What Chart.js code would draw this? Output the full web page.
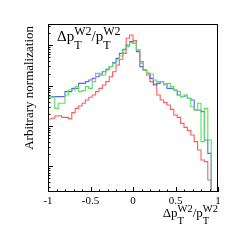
<!DOCTYPE html>
<html>
<head>
<meta charset="utf-8">
<script src="https://cdn.jsdelivr.net/npm/chart.js@4/dist/chart.umd.min.js"></script>
<style>
  html, body { margin: 0; padding: 0; background: #fff; }
  canvas { display: block; }
</style>
</head>
<body>
<canvas id="chart" width="242" height="242"></canvas>
<script>
// 50 bins from -1 to 1
const binEdges = Array.from({ length: 51 }, (_, i) => -1 + 0.04 * i)

const redHist = [14.9, 15.5, 17.7, 18.0, 16.4, 16.4, 15.2, 21.4, 27.4, 31.3,
    36.5, 44.1, 51.4, 58.7, 71.0, 85.9, 104, 126, 167, 222,
    325, 450, 633, 1492, 1804, 1305, 766, 394, 245, 184,
    126, 110, 58.7, 44.1, 37.9, 33.2, 25.9, 18.7, 16.4, 11.6,
    9.27, 7.66, 5.98, 4.09, 2.54, 1.44, 1.31, 0.46, 0, 0]

const blueHist = [53.4, 53.4, 53.4, 53.4, 53.4, 71.0, 71.0, 85.9, 85.9, 114,
    114, 126, 138, 152, 167, 184, 222, 254, 296, 372,
    476, 633, 796, 1019, 1233, 1121, 697, 296, 245, 202,
    152, 104, 114, 126, 110, 85.9, 85.9, 78.1, 58.7, 53.4,
    55.4, 48.5, 44.1, 24.9, 24.9, 22.7, 4.5, 2.1, 0, 0]

const greenHist = [53.4, 52.0, 27.4, 36.5, 36.5, 58.7, 78.1, 78.1, 94.5, 71.0,
    75.2, 94.5, 85.9, 126, 202, 202, 184, 245, 296, 358,
    433, 544, 766, 927, 1164, 1121, 766, 358, 245, 202,
    195, 138, 126, 126, 104, 114, 94.5, 75.2, 71.0, 53.4,
    58.7, 48.5, 30.1, 24.9, 36.5, 4.09, 27.4, 4.5, 0, 0]

const xTicks = [-1, -0.5, 0, 0.5, 1]
const xTickLabels = ['-1', '-0.5', '0', '0.5', '1']

const yMin = 0.231
const yMax = 3380
const floorVal = 0.01 // empty bins drop below the frame

// point at each left edge, plus start/end at the floor so the outline runs down to the axis
const toSteps = (hist) => {
    const pts = [{ x: -1, y: floorVal }]
    hist.forEach((v, i) => pts.push({ x: binEdges[i], y: v > 0 ? v : floorVal }))
    pts.push({ x: 1, y: floorVal })
    return pts
}

const serif = '"Liberation Serif", "DejaVu Serif", serif'

// draws  Δp_T^{W2}/p_T^{W2}  with ROOT-style stacked sub/superscripts
const drawPtRatio = (ctx, x, y, size, small, alignRight) => {
    const parts = [['Δp', 'W2', 'T'], ['/p', 'W2', 'T']]
    const mainFont = size + 'px ' + serif
    const smallFont = small + 'px ' + serif
    let total = 0
    parts.forEach(p => {
        ctx.font = mainFont
        total += ctx.measureText(p[0]).width
        ctx.font = smallFont
        total += Math.max(ctx.measureText(p[1]).width, ctx.measureText(p[2]).width)
    })
    let cx = alignRight ? x - total : x
    ctx.textAlign = 'left'
    ctx.textBaseline = 'alphabetic'
    parts.forEach(p => {
        ctx.font = mainFont
        ctx.fillText(p[0], cx, y)
        cx += ctx.measureText(p[0]).width
        ctx.font = smallFont
        ctx.fillText(p[1], cx, y - size * 0.42)
        ctx.fillText(p[2], cx, y + size * 0.5)
        cx += Math.max(ctx.measureText(p[1]).width, ctx.measureText(p[2]).width)
    })
}

const frameAndText = {
    id: 'frameAndText',
    afterDatasetsDraw(chart) {
        const ctx = chart.ctx
        const a = chart.chartArea
        const xs = chart.scales.x
        const ys = chart.scales.y
        ctx.save()
        ctx.strokeStyle = '#000'
        ctx.fillStyle = '#000'
        ctx.lineWidth = 1
        ctx.strokeRect(a.left + 0.5, a.top + 0.5, a.right - a.left - 1, a.bottom - a.top - 1)

        // x ticks, inside the frame
        ctx.beginPath()
        for (let k = -10; k <= 10; k++) {
            const v = k / 10
            const px = Math.round(xs.getPixelForValue(v)) + 0.5
            const len = k % 5 === 0 ? 5 : 2.5
            ctx.moveTo(px, a.bottom)
            ctx.lineTo(px, a.bottom - len)
        }
        // y log ticks, inside the frame
        for (let e = -1; e <= 3; e++) {
            for (let m = 1; m <= 9; m++) {
                const v = m * Math.pow(10, e)
                if (v < yMin || v > yMax) continue
                const py = Math.round(ys.getPixelForValue(v)) + 0.5
                const len = m === 1 ? 5 : 2.5
                ctx.moveTo(a.left, py)
                ctx.lineTo(a.left + len, py)
            }
        }
        ctx.stroke()

        ctx.font = '11px ' + serif
        ctx.textAlign = 'center'
        ctx.textBaseline = 'middle'
        xTicks.forEach((v, i) => {
            ctx.fillText(xTickLabels[i], xs.getPixelForValue(v), 201)
        })

        drawPtRatio(ctx, a.right, 217, 13, 10.5, true)
        drawPtRatio(ctx, 57, 41, 15, 12, false)

        ctx.save()
        ctx.translate(33, a.top + 2)
        ctx.rotate(-Math.PI / 2)
        ctx.font = '13px ' + serif
        ctx.textAlign = 'right'
        ctx.textBaseline = 'alphabetic'
        ctx.fillText('Arbitrary normalization', 0, 0)
        ctx.restore()
        ctx.restore()
    }
}

const histStyle = (color) => ({
    borderColor: color,
    backgroundColor: color,
    borderWidth: 1.1,
    pointRadius: 0,
    stepped: true,
    fill: false,
    clip: 0
})

new Chart(document.getElementById('chart').getContext('2d'), {
    type: 'line',
    data: {
        datasets: [
            Object.assign({ label: 'green', data: toSteps(greenHist) }, histStyle('#5ee05e')),
            Object.assign({ label: 'blue', data: toSteps(blueHist) }, histStyle('#6060ff')),
            Object.assign({ label: 'red', data: toSteps(redHist) }, histStyle('#ff5c5c'))
        ]
    },
    options: {
        responsive: false,
        animation: false,
        devicePixelRatio: 1,
        layout: { padding: { left: 48, right: 24, top: 24, bottom: 50 } },
        plugins: { legend: { display: false }, tooltip: { enabled: false } },
        scales: {
            x: { type: 'linear', min: -1, max: 1, display: false },
            y: { type: 'logarithmic', min: yMin, max: yMax, display: false }
        }
    },
    plugins: [frameAndText]
})
</script>
</body>
</html>
